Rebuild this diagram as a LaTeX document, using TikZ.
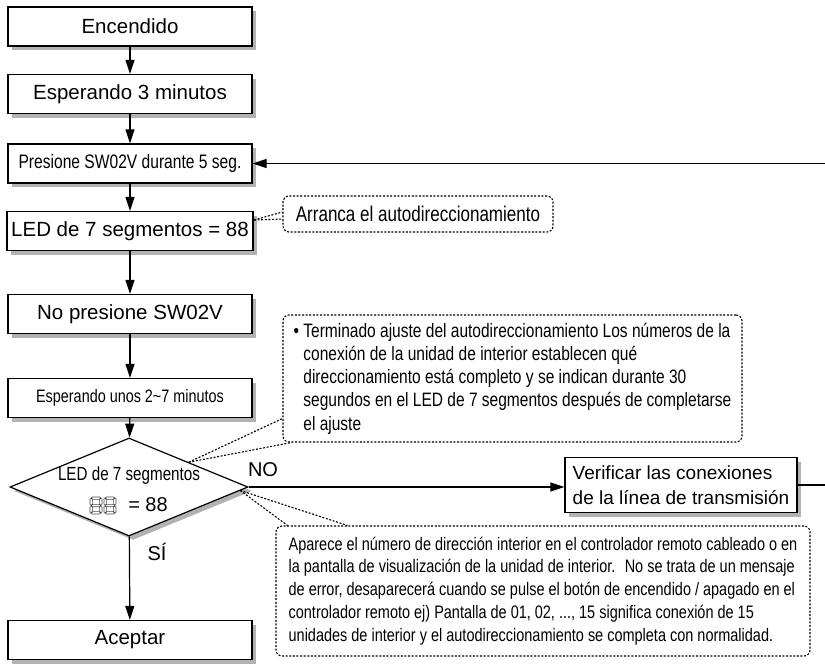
\documentclass[tikz,border=0pt]{standalone}
\usepackage{fontspec}
\setmainfont{Liberation Sans}
\newfontfamily\narrowfont[FakeStretch=0.8]{Liberation Sans}
\usetikzlibrary{calc, shapes.geometric, positioning, shadows, arrows.meta}

\tikzset{
  sombra/.style={drop shadow={shadow xshift=4pt, shadow yshift=-4pt, fill=black!30, opacity=1}},
  caja/.style={draw, line width=1.2pt, fill=white, sombra, minimum width=244pt,
    minimum height=39pt, inner sep=2pt, font=\fontsize{20.5}{24}\selectfont},
  cajaest/.style={caja, font=\narrowfont\fontsize{19.5}{23}\selectfont},
  rombo/.style={diamond, draw, line width=1.2pt, fill=white, sombra,
    minimum width=238pt, minimum height=98pt, inner sep=0pt},
  nota/.style={draw, dash pattern=on 2pt off 1.6pt, line width=1.1pt, rounded corners=6pt,
    align=left, inner sep=2pt},
  puntero/.style={dash pattern=on 2pt off 1.6pt, line width=1.1pt},
  etiqueta/.style={font=\fontsize{20}{24}\selectfont},
  flecha/.style={->, line width=1.2pt},
  segm/.style={draw=black!70, line width=0.6pt, rounded corners=0.8pt}
}

\begin{document}
\begin{tikzpicture}[>={Triangle[length=14pt,width=9pt]}, x=1pt, y=-1pt]
  \useasboundingbox (0,0) rectangle (825,664);

  % 1. Cajas del flujo principal
  \node[caja] (enc) at (130,26.5) {Encendido};
  \node[caja] (esp3) at (130,94) {Esperando 3 minutos};
  \node[cajaest] (pres) at (130,163.5) {Presione SW02V durante 5 seg.};
  \node[caja, minimum width=246pt] (led) at (130,231) {LED de 7 segmentos = 88};
  \node[caja] (nopres) at (130,314) {No presione SW02V};
  \node[cajaest, font=\narrowfont\fontsize{18}{22}\selectfont] (esp27) at (130,398)
    {Esperando unos 2\textasciitilde 7 minutos};
  \node[rombo] (chk) at (129,487) {};
  \node[caja] (acep) at (130,640) {Aceptar};
  \node[caja, minimum width=232pt, minimum height=55pt, align=left,
    font=\fontsize{19}{25}\selectfont] (verif) at (681,485)
    {Verificar las conexiones\\de la línea de transmisión};

  % 2. Texto del rombo y display de 7 segmentos
  \node[font=\narrowfont\fontsize{19}{23}\selectfont] (chkt1) at (129,476) {LED de 7 segmentos};
  \node[etiqueta] (chkt2) at (148,505) {= 88};
  \foreach \dx in {90,104} {
    \draw[segm] (\dx+1.5,497) rectangle (\dx+10.5,499.4);
    \draw[segm] (\dx+1.5,504.3) rectangle (\dx+10.5,506.7);
    \draw[segm] (\dx+1.5,511.6) rectangle (\dx+10.5,514);
    \draw[segm] (\dx,498) rectangle (\dx+2.4,505);
    \draw[segm] (\dx+9.6,498) rectangle (\dx+12,505);
    \draw[segm] (\dx,506) rectangle (\dx+2.4,513);
    \draw[segm] (\dx+9.6,506) rectangle (\dx+12,513);
  }

  % 3. Notas
  \node[nota, minimum width=270pt, minimum height=36pt,
    font=\narrowfont\fontsize{21.3}{23}\selectfont] (notaA) at (418,214)
    {Arranca el autodireccionamiento};
  \node[nota, minimum width=459pt, minimum height=127pt,
    font=\narrowfont\fontsize{19.4}{23.2}\selectfont] (notaB) at (512.5,378.5)
    {• Terminado ajuste del autodireccionamiento Los números de la\\
     \phantom{• }conexión de la unidad de interior establecen qué\\
     \phantom{• }direccionamiento está completo y se indican durante 30\\
     \phantom{• }segundos en el LED de 7 segmentos después de completarse\\
     \phantom{• }el ajuste};
  \node[nota, minimum width=534pt, minimum height=130pt,
    font=\narrowfont\fontsize{18.1}{22.8}\selectfont] (notaC) at (543,591)
    {Aparece el número de dirección interior en el controlador remoto cableado o en\\
     la pantalla de visualización de la unidad de interior.~ No se trata de un mensaje\\
     de error, desaparecerá cuando se pulse el botón de encendido / apagado en el\\
     controlador remoto ej) Pantalla de 01, 02, ..., 15 significa conexión de 15\\
     unidades de interior y el autodireccionamiento se completa con normalidad.};

  % 4. Punteros de las notas
  \coordinate (pA) at (254,220);
  \draw[puntero] (pA) -- ($(notaA.west)+(0,-2)$);
  \draw[puntero] (pA) -- ($(notaA.west)+(0,5)$);
  \coordinate (pB) at (chk.north east);
  \draw[puntero] (pB) -- ($(notaB.south west)+(0,-24)$);
  \draw[puntero] (pB) -- ($(notaB.south west)+(9,0)$);
  \coordinate (pC) at ($(chk.east)!0.07!(chk.south)$);
  \draw[puntero] (pC) -- ($(notaC.north west)+(12,0)$);
  \draw[puntero] (pC) -- ($(notaC.north west)+(72,0)$);

  % 5. Flechas
  \draw[flecha] (enc) -- (esp3);
  \draw[flecha] (esp3) -- (pres);
  \draw[flecha] (pres) -- (led);
  \draw[flecha] (led) -- (nopres);
  \draw[flecha] (nopres) -- (esp27);
  \draw[flecha] (esp27) -- (chk);
  \draw[flecha] (chk) -- (acep);
  \draw[flecha] (chk.east) -- (chk.east -| verif.west);
  \node[etiqueta] (lblsi) at (157,552) {SÍ};
  \node[etiqueta] (lblno) at (263,470) {NO};

  % 6. Retorno
  \coordinate (ret) at (840,0);
  \draw[flecha] (verif.east) -- (verif.east -| ret) |- (pres.east);
\end{tikzpicture}
\end{document}
